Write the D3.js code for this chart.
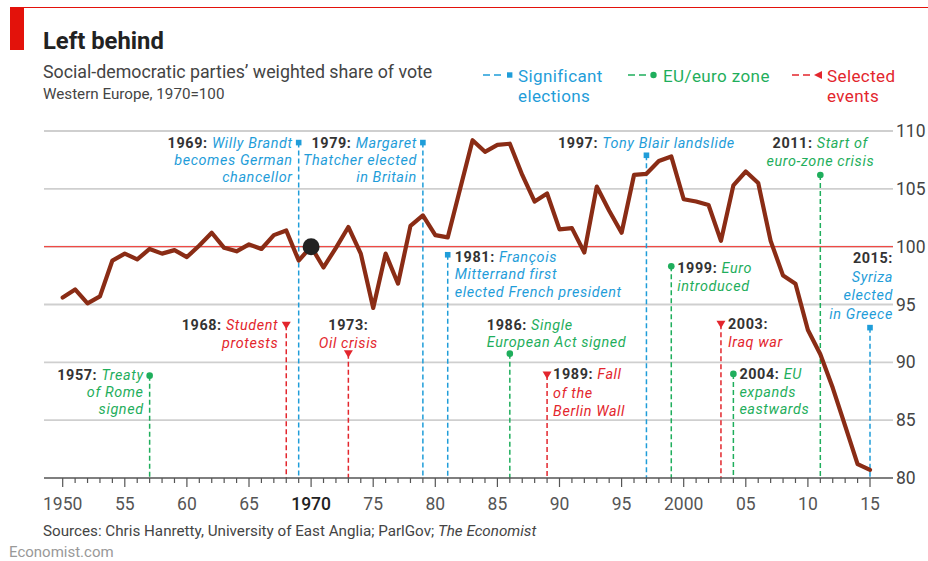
<!DOCTYPE html>
<html><head><meta charset="utf-8">
<script src="https://cdn.jsdelivr.net/npm/d3@7"></script>
<style>
body{margin:0;background:#fff;}
svg{display:block;font-family:Roboto,"Noto Sans",sans-serif;}
</style></head><body><svg id="c" width="928" height="561"></svg>
<script>
// ---------- DATA ----------
const years = [1950,1951,1952,1953,1954,1955,1956,1957,1958,1959,
  1960,1961,1962,1963,1964,1965,1966,1967,1968,1969,
  1970,1971,1972,1973,1974,1975,1976,1977,1978,1979,
  1980,1981,1982,1983,1984,1985,1986,1987,1988,1989,
  1990,1991,1992,1993,1994,1995,1996,1997,1998,1999,
  2000,2001,2002,2003,2004,2005,2006,2007,2008,2009,
  2010,2011,2012,2013,2014,2015];
const voteShare = [95.6,96.3,95.1,95.7,98.8,99.4,98.9,99.8,99.4,99.7,
  99.1,100.1,101.2,99.9,99.6,100.2,99.8,101.0,101.4,98.8,
  100.0,98.2,99.9,101.7,99.4,94.7,99.4,96.8,101.8,102.7,
  101.0,100.8,105.0,109.2,108.2,108.8,108.9,106.2,103.9,104.6,
  101.5,101.6,99.5,105.2,103.1,101.2,106.2,106.3,107.4,107.8,
  104.1,103.9,103.6,100.5,105.3,106.5,105.5,100.5,97.5,96.8,
  92.8,90.7,87.8,84.5,81.2,80.7];
const baseYear = 1970;
const xTickYears = [1950,1955,1960,1965,1970,1975,1980,1985,1990,1995,2000,2005,2010,2015];
const xTickLabels = ["1950","55","60","65","1970","75","80","85","90","95","2000","05","10","15"];
const yTicks = [80,85,90,95,100,105,110];
const yTickLabels = ["80","85","90","95","100","105","110"];

const electionEvents = [
  {year:1969, head:"1969:", lines:["Willy Brandt","becomes German","chancellor"]},
  {year:1979, head:"1979:", lines:["Margaret","Thatcher elected","in Britain"]},
  {year:1981, head:"1981:", lines:["François","Mitterrand first","elected French president"]},
  {year:1997, head:"1997:", lines:["Tony Blair landslide"]},
  {year:2015, head:"2015:", lines:["Syriza","elected","in Greece"], headAlone:true}
];
const euEvents = [
  {year:1957, head:"1957:", lines:["Treaty","of Rome","signed"]},
  {year:1986, head:"1986:", lines:["Single","European Act signed"]},
  {year:1999, head:"1999:", lines:["Euro","introduced"]},
  {year:2004, head:"2004:", lines:["EU","expands","eastwards"]},
  {year:2011, head:"2011:", lines:["Start of","euro-zone crisis"]}
];
const otherEvents = [
  {year:1968, head:"1968:", lines:["Student","protests"]},
  {year:1973, head:"1973:", lines:["Oil crisis"], headAlone:true},
  {year:1989, head:"1989:", lines:["Fall","of the","Berlin Wall"]},
  {year:2003, head:"2003:", lines:["Iraq war"], headAlone:true}
];
const legendLabels = [["Significant","elections"],["EU/euro zone"],["Selected","events"]];

// ---------- LAYOUT (annotation placement, in value units + px offsets) ----------
const annLayout = {
  1969:{at:109.0, anchor:"end",   dx:-6,  dy:0,   lh:17},
  1979:{at:109.0, anchor:"end",   dx:-6,  dy:0,   lh:17},
  1981:{at:99.3,  anchor:"start", dx:7,   dy:2,   lh:17.3},
  1997:{at:107.9, anchor:"middle",dx:0,   dy:-12, lh:17},
  2015:{at:93.0,  anchor:"end",   dx:23,  dy:-70, lh:18.7},
  1957:{at:88.85, anchor:"end",   dx:-6,  dy:-1,  lh:17.2},
  1986:{at:90.75, anchor:"start", dx:-23, dy:-29, lh:17},
  1999:{at:98.3,  anchor:"start", dx:6,   dy:1,   lh:18},
  2004:{at:89.0,  anchor:"start", dx:6,   dy:0,   lh:17.5},
  2011:{at:106.2, anchor:"middle",dx:0,   dy:-32, lh:18},
  1968:{at:93.2,  anchor:"end",   dx:-8,  dy:-1,  lh:18},
  1973:{at:90.75, anchor:"middle",dx:0,   dy:-29, lh:18},
  1989:{at:88.9,  anchor:"start", dx:6,   dy:-1,  lh:18.3},
  2003:{at:93.3,  anchor:"start", dx:7,   dy:0,   lh:17.5}
};

// ---------- STYLE ----------
const C = {blue:"#1f9dd9", green:"#1fae5c", red:"#e3262d", line:"#8a2c15",
           grid:"#cfcfcf", axis:"#555", head:"#333"};

const svg = d3.select("#c");
const xs = d3.scaleLinear().domain([1950,2015]).range([62.7,870]);
const ys = d3.scaleLinear().domain([80,110]).range([478,131]);
const L = 44, R = 893;

// header
svg.append("line").attr("x1",10).attr("x2",928).attr("y1",7.5).attr("y2",7.5)
  .attr("stroke","#e3120b").attr("stroke-width",1);
svg.append("rect").attr("x",10).attr("y",7).attr("width",14).attr("height",43).attr("fill","#e3120b");
svg.append("text").attr("x",43).attr("y",49).attr("font-size",23.8).attr("font-weight","bold")
  .attr("fill","#222").text("Left behind");
svg.append("text").attr("x",43).attr("y",78).attr("font-size",17.8).attr("fill","#444")
  .text("Social-democratic parties’ weighted share of vote");
svg.append("text").attr("x",43).attr("y",99).attr("font-size",15.2).attr("fill","#444")
  .text("Western Europe, 1970=100");

// legend
const legCols = [C.blue, C.green, C.red];
const legX = [483, 628, 792];
legendLabels.forEach((lab,i)=>{
  const g = svg.append("g").attr("transform",`translate(${legX[i]},75)`);
  g.append("line").attr("x1",0).attr("x2",22).attr("y1",0).attr("y2",0)
    .attr("stroke",legCols[i]).attr("stroke-width",1.6).attr("stroke-dasharray","7,4");
  if(i===0) g.append("rect").attr("x",24).attr("y",-2.7).attr("width",5.4).attr("height",5.4).attr("fill",legCols[i]);
  if(i===1) g.append("circle").attr("cx",25.5).attr("cy",0).attr("r",3.2).attr("fill",legCols[i]);
  if(i===2) g.append("path").attr("d","M22,0 L30,-4 L30,4 Z").attr("fill",legCols[i]);
  const t = g.append("text").attr("x",35).attr("font-size",17).attr("letter-spacing",0.4).attr("fill",legCols[i]);
  lab.forEach((s,j)=> t.append("tspan").attr("x",35).attr("y",6.5+j*20).text(s));
});

// gridlines
svg.append("g").selectAll("line").data(yTicks.filter(d=>d>80)).join("line")
  .attr("x1",L).attr("x2",R).attr("y1",d=>ys(d)).attr("y2",d=>ys(d))
  .attr("stroke",C.grid).attr("stroke-width",1.8);
// base line
svg.append("line").attr("x1",L).attr("x2",R).attr("y1",ys(100)).attr("y2",ys(100))
  .attr("stroke","#ef4a45").attr("stroke-width",1.3);

// y labels
svg.append("g").selectAll("text").data(yTicks).join("text")
  .attr("x",896).attr("y",d=>ys(d)+6).attr("font-size",17.5).attr("fill","#444")
  .text((d,i)=>yTickLabels[i]);

// event vertical lines + markers
const groups = [
  {ev:electionEvents, col:C.blue, mark:"square"},
  {ev:euEvents, col:C.green, mark:"circle"},
  {ev:otherEvents, col:C.red, mark:"tri"}
];
const vl = svg.append("g");
groups.forEach(gr=>{
  gr.ev.forEach(e=>{
    const lay = annLayout[e.year], x = xs(e.year), y = ys(lay.at);
    vl.append("line").attr("x1",x).attr("x2",x).attr("y1",y).attr("y2",ys(80))
      .attr("stroke",gr.col).attr("stroke-width",1.5).attr("stroke-dasharray","5,3");
    if(gr.mark==="square") vl.append("rect").attr("x",x-2.8).attr("y",y-2.8).attr("width",5.6).attr("height",5.6).attr("fill",gr.col);
    if(gr.mark==="circle") vl.append("circle").attr("cx",x).attr("cy",y).attr("r",3.3).attr("fill",gr.col);
    if(gr.mark==="tri") vl.append("path").attr("d",`M${x-4.5},${y-3.5} L${x+4.5},${y-3.5} L${x},${y+4} Z`).attr("fill",gr.col);
  });
});

// main line
const pts = years.map((y,i)=>[y,voteShare[i]]);
svg.append("path").datum(pts)
  .attr("d", d3.line().x(d=>xs(d[0])).y(d=>ys(d[1])))
  .attr("fill","none").attr("stroke",C.line).attr("stroke-width",4.2)
  .attr("stroke-linejoin","round").attr("stroke-linecap","round");
const bi = years.indexOf(baseYear);
svg.append("circle").attr("cx",xs(baseYear)).attr("cy",ys(voteShare[bi])).attr("r",8.5).attr("fill","#222");

// annotation labels
const FS = 14.4;
groups.forEach(gr=>{
  gr.ev.forEach(e=>{
    const lay = annLayout[e.year], x = xs(e.year)+lay.dx, y0 = ys(lay.at)+lay.dy;
    const t = svg.append("text").attr("font-size",FS).attr("letter-spacing",0.6).attr("text-anchor",lay.anchor);
    let rows = [];
    if(e.headAlone){ rows.push([e.head,null]); e.lines.forEach(l=>rows.push([null,l])); }
    else { rows.push([e.head,e.lines[0]]); e.lines.slice(1).forEach(l=>rows.push([null,l])); }
    rows.forEach((r,j)=>{
      const by = y0 + j*lay.lh + 5.2;
      let first = true;
      if(r[0]){ t.append("tspan").attr("x",x).attr("y",by).attr("font-weight","bold").attr("fill",C.head).text(r[0]+(r[1]?" ":"")); first=false; }
      if(r[1]){ const s = t.append("tspan").attr("font-style","italic").attr("fill",gr.col).text(r[1]);
        if(first) s.attr("x",x).attr("y",by); }
    });
  });
});

// x axis
const ax = svg.append("g");
ax.append("line").attr("x1",L).attr("x2",R).attr("y1",ys(80)).attr("y2",ys(80))
  .attr("stroke",C.axis).attr("stroke-width",1.6);
ax.selectAll("line.minor").data(years).join("line").attr("class","minor")
  .attr("x1",d=>xs(d)).attr("x2",d=>xs(d)).attr("y1",ys(80))
  .attr("y2",d=>ys(80)+(xTickYears.includes(d)?9:5))
  .attr("stroke",C.axis).attr("stroke-width",1.2);
ax.selectAll("text").data(xTickYears).join("text")
  .attr("x",d=>xs(d)).attr("y",510).attr("text-anchor","middle").attr("font-size",17.5)
  .attr("fill",d=>d===baseYear?"#222":"#555").attr("font-weight",d=>d===baseYear?"500":"normal")
  .text((d,i)=>xTickLabels[i]);

// footer
const src = svg.append("text").attr("x",43).attr("y",536).attr("font-size",15.2).attr("fill","#444");
src.append("tspan").text("Sources: Chris Hanretty, University of East Anglia; ParlGov; ");
src.append("tspan").attr("font-style","italic").text("The Economist");
svg.append("text").attr("x",9).attr("y",557).attr("font-size",15).attr("fill","#999").text("Economist.com");
</script></body></html>
